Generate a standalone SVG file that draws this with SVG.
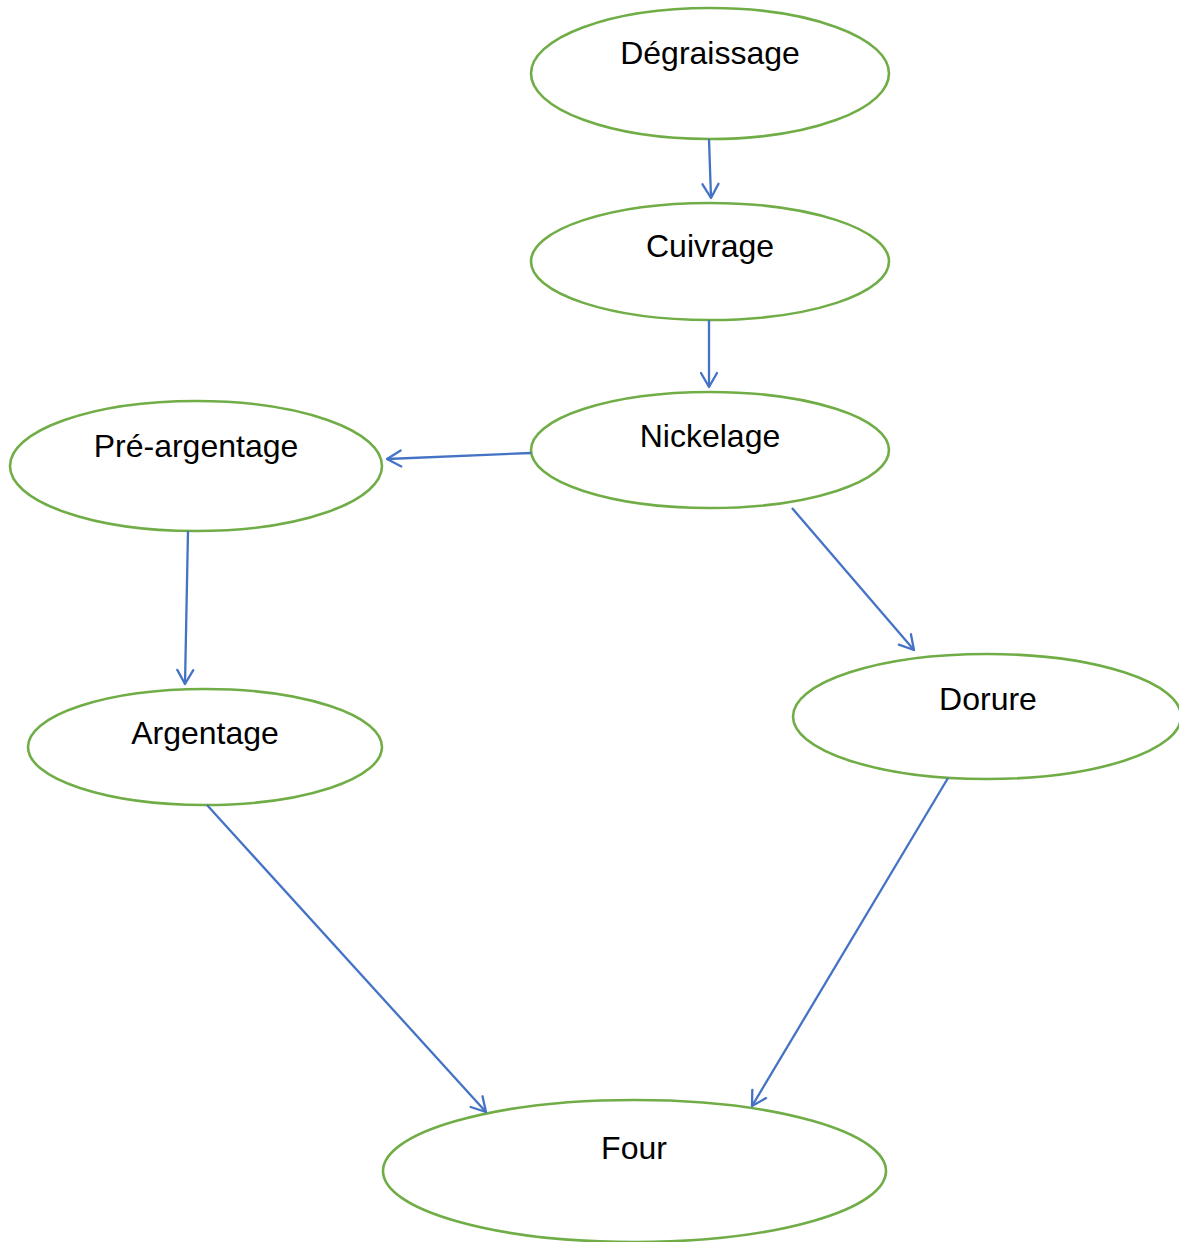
<svg xmlns="http://www.w3.org/2000/svg" width="1179" height="1242" viewBox="0 0 1179 1242">
<style>
.node ellipse{fill:#fff;stroke:#70AD47;stroke-width:2.6}
.node text{font-family:"Liberation Sans",Arial,sans-serif;font-size:32px;fill:#000;text-anchor:middle}
.edge{stroke:#4472C4;stroke-width:2.3;fill:none;marker-end:url(#arr)}
</style>
<defs>
<marker id="arr" viewBox="-16 -10 18 20" refX="0" refY="0" markerWidth="18" markerHeight="20" markerUnits="userSpaceOnUse" orient="auto">
<path d="M-14,-8 L0,0 L-14,8" fill="none" stroke="#4472C4" stroke-width="2.3" stroke-linecap="round" stroke-linejoin="round"/>
</marker>
</defs>
<rect width="1179" height="1242" fill="#fff"/>
<g id="n-degraissage" class="node"><ellipse cx="710" cy="73.5" rx="179" ry="65.5"/><text x="710" y="64">Dégraissage</text></g>
<g id="n-cuivrage" class="node"><ellipse cx="710" cy="261.5" rx="179" ry="58.5"/><text x="710" y="257">Cuivrage</text></g>
<g id="n-nickelage" class="node"><ellipse cx="710" cy="450" rx="179" ry="58"/><text x="710" y="447">Nickelage</text></g>
<g id="n-preargentage" class="node"><ellipse cx="196" cy="466" rx="186" ry="65"/><text x="196" y="457">Pré-argentage</text></g>
<g id="n-argentage" class="node"><ellipse cx="205" cy="747" rx="177" ry="58"/><text x="205" y="744">Argentage</text></g>
<g id="n-dorure" class="node"><ellipse cx="987" cy="716.5" rx="194" ry="62.5"/><text x="988" y="710">Dorure</text></g>
<g id="n-four" class="node"><ellipse cx="634.5" cy="1171" rx="251.5" ry="71"/><text x="634" y="1159">Four</text></g>
<g id="edges">
<line class="edge" x1="709" y1="139" x2="711" y2="198"/>
<line class="edge" x1="709" y1="320" x2="709" y2="387"/>
<line class="edge" x1="531" y1="453" x2="387" y2="459"/>
<line class="edge" x1="188" y1="531" x2="185" y2="684"/>
<line class="edge" x1="792" y1="508" x2="914" y2="650"/>
<line class="edge" x1="207" y1="805" x2="486" y2="1112"/>
<line class="edge" x1="948" y1="778" x2="752" y2="1106"/>
</g>
</svg>
